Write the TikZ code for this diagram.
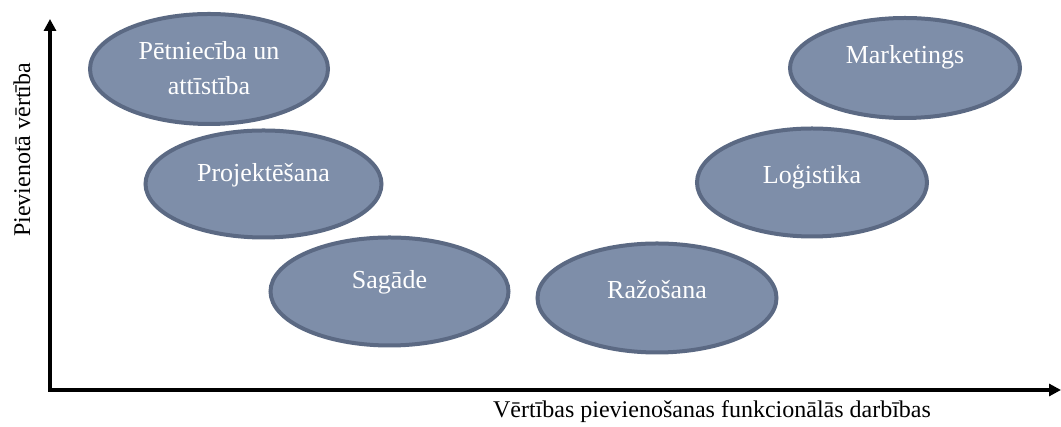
\documentclass[tikz,border=0pt]{standalone}
\usepackage{fontspec}
\setmainfont{Liberation Serif}
\usetikzlibrary{shapes.geometric,arrows.meta}
\definecolor{blobfill}{HTML}{7E8EA9}
\definecolor{blobline}{HTML}{5B6983}
\tikzset{
  blob/.style={ellipse, draw=blobline, line width=4pt, fill=blobfill, inner sep=0pt},
  blobtxt/.style={text=white, font=\fontsize{26}{35}\selectfont, align=center, inner sep=0pt},
  axis/.style={line width=3.5pt, -{Triangle[length=12pt,width=12pt]}},
  axlabel/.style={font=\fontsize{24}{28}\selectfont, inner sep=0pt}
}
\begin{document}
\begin{tikzpicture}[x=1pt,y=1pt]
\useasboundingbox (0,0) rectangle (1061,427);
% axes
\coordinate (o) at (50,37);
\coordinate (ytop) at (50,408);
\coordinate (xend) at (1061,37);
\draw[axis] (o) -- (ytop);
\draw[axis] ([xshift=-1.75pt]o) -- (xend);
\node[axlabel, rotate=90] (ylab) at (22,277) {Pievienotā vērtība};
\node[axlabel] (xlab) at (712,15) {Vērtības pievienošanas funkcionālās darbības};
% ellipses
\node[blob, minimum width=238pt, minimum height=110pt] (p) at (209,358) {};
\node[blobtxt] (pt) at (209,359) {Pētniecība un\\attīstība};
\node[blob, minimum width=236pt, minimum height=107pt] (pr) at (263.5,243) {};
\node[blobtxt] (prt) at (263.5,252) {Projektēšana};
\node[blob, minimum width=238pt, minimum height=108pt] (s) at (389.5,135.5) {};
\node[blobtxt] (st) at (389.5,145) {Sagāde};
\node[blob, minimum width=239pt, minimum height=109pt] (r) at (657,129) {};
\node[blobtxt] (rt) at (657,137) {Ražošana};
\node[blob, minimum width=230pt, minimum height=108pt] (l) at (812,244.5) {};
\node[blobtxt] (lt) at (812,250) {Loģistika};
\node[blob, minimum width=230pt, minimum height=100pt] (m) at (905,359) {};
\node[blobtxt] (mt) at (905,370) {Marketings};
\end{tikzpicture}
\end{document}
